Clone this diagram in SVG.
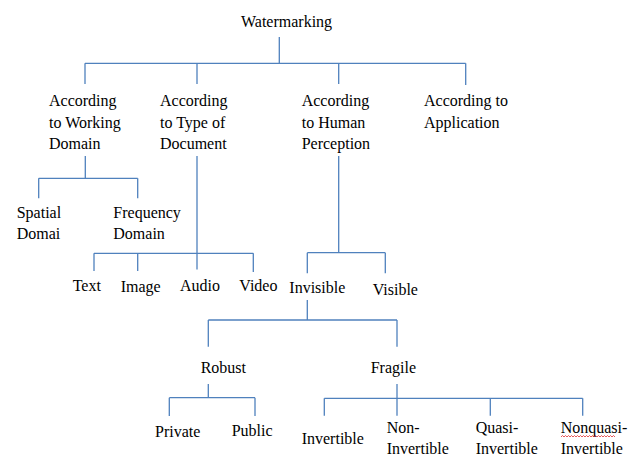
<svg xmlns="http://www.w3.org/2000/svg" width="637" height="458" viewBox="0 0 637 458">
<rect width="637" height="458" fill="#fff"/>
<g id="connectors" stroke="#4f81bd" stroke-width="1.3" fill="none">
<line x1="279.3" y1="37" x2="279.3" y2="63.3"/>
<line x1="85" y1="63.3" x2="465.7" y2="63.3"/>
<line x1="85" y1="63.3" x2="85" y2="84"/>
<line x1="197" y1="63.3" x2="197" y2="84"/>
<line x1="338.7" y1="63.3" x2="338.7" y2="84"/>
<line x1="465.7" y1="63.3" x2="465.7" y2="85"/>
<line x1="85.3" y1="156" x2="85.3" y2="178.3"/>
<line x1="38.7" y1="178.3" x2="137.7" y2="178.3"/>
<line x1="38.7" y1="178.3" x2="38.7" y2="198.3"/>
<line x1="137.7" y1="178.3" x2="137.7" y2="198.3"/>
<line x1="197" y1="156" x2="197" y2="269.5"/>
<line x1="94" y1="253.3" x2="253.3" y2="253.3"/>
<line x1="94" y1="253.3" x2="94" y2="271"/>
<line x1="137.7" y1="253.3" x2="137.7" y2="271"/>
<line x1="253.3" y1="253.3" x2="253.3" y2="272"/>
<line x1="338.7" y1="156" x2="338.7" y2="252.7"/>
<line x1="307.3" y1="252.7" x2="385.3" y2="252.7"/>
<line x1="307.3" y1="252.7" x2="307.3" y2="273.3"/>
<line x1="385.3" y1="252.7" x2="385.3" y2="273.3"/>
<line x1="307.3" y1="300" x2="307.3" y2="320"/>
<line x1="208.3" y1="320" x2="397" y2="320"/>
<line x1="208.3" y1="320" x2="208.3" y2="346.7"/>
<line x1="397" y1="320" x2="397" y2="346.7"/>
<line x1="208.3" y1="384" x2="208.3" y2="397.7"/>
<line x1="169.3" y1="397.7" x2="255" y2="397.7"/>
<line x1="169.3" y1="397.7" x2="169.3" y2="416"/>
<line x1="255" y1="397.7" x2="255" y2="416"/>
<line x1="397" y1="384" x2="397" y2="415.7"/>
<line x1="324.3" y1="398.3" x2="582.7" y2="398.3"/>
<line x1="324.3" y1="398.3" x2="324.3" y2="415.7"/>
<line x1="490.3" y1="398.3" x2="490.3" y2="415.7"/>
<line x1="582.7" y1="398.3" x2="582.7" y2="415.7"/>
</g>
<g id="watermarking"><text font-family="Liberation Serif" font-size="16" x="241" y="27">Watermarking</text></g>
<g id="working-domain"><text font-family="Liberation Serif" font-size="16" x="49" y="106">According</text><text font-family="Liberation Serif" font-size="16" x="49" y="128">to Working</text><text font-family="Liberation Serif" font-size="16" x="49" y="149">Domain</text></g>
<g id="type-document"><text font-family="Liberation Serif" font-size="16" x="160" y="106">According</text><text font-family="Liberation Serif" font-size="16" x="160" y="128">to Type of</text><text font-family="Liberation Serif" font-size="16" x="160" y="149">Document</text></g>
<g id="human-perception"><text font-family="Liberation Serif" font-size="16" x="301.7" y="106">According</text><text font-family="Liberation Serif" font-size="16" x="301.7" y="128">to Human</text><text font-family="Liberation Serif" font-size="16" x="301.7" y="149">Perception</text></g>
<g id="application"><text font-family="Liberation Serif" font-size="16" x="424" y="106">According to</text><text font-family="Liberation Serif" font-size="16" x="424" y="128">Application</text></g>
<g id="spatial"><text font-family="Liberation Serif" font-size="16" x="16.7" y="218.3">Spatial</text><text font-family="Liberation Serif" font-size="16" x="16.7" y="239">Domai</text></g>
<g id="frequency"><text font-family="Liberation Serif" font-size="16" x="113.3" y="218.3">Frequency</text><text font-family="Liberation Serif" font-size="16" x="113.3" y="239">Domain</text></g>
<g id="text-node"><text font-family="Liberation Serif" font-size="16" x="72.7" y="290.7">Text</text></g>
<g id="image"><text font-family="Liberation Serif" font-size="16" x="120.7" y="291.7">Image</text></g>
<g id="audio"><text font-family="Liberation Serif" font-size="16" x="180" y="291.3">Audio</text></g>
<g id="video"><text font-family="Liberation Serif" font-size="16" x="239.3" y="291">Video</text></g>
<g id="invisible"><text font-family="Liberation Serif" font-size="16" x="289.3" y="293.3">Invisible</text></g>
<g id="visible"><text font-family="Liberation Serif" font-size="16" x="372.7" y="295">Visible</text></g>
<g id="robust"><text font-family="Liberation Serif" font-size="16" x="200.7" y="372.7">Robust</text></g>
<g id="fragile"><text font-family="Liberation Serif" font-size="16" x="370.7" y="373">Fragile</text></g>
<g id="private"><text font-family="Liberation Serif" font-size="16" x="155" y="436.7">Private</text></g>
<g id="public"><text font-family="Liberation Serif" font-size="16" x="231.7" y="436">Public</text></g>
<g id="invertible"><text font-family="Liberation Serif" font-size="16" x="301.7" y="444">Invertible</text></g>
<g id="non-invertible"><text font-family="Liberation Serif" font-size="16" x="386.7" y="433.3">Non-</text><text font-family="Liberation Serif" font-size="16" x="386.7" y="454">Invertible</text></g>
<g id="quasi-invertible"><text font-family="Liberation Serif" font-size="16" x="475.7" y="433.3">Quasi-</text><text font-family="Liberation Serif" font-size="16" x="475.7" y="454">Invertible</text></g>
<g id="nonquasi-invertible"><text font-family="Liberation Serif" font-size="16" x="560.7" y="433.3">Nonquasi-</text>
<path d="M561 437 l1.5 -1.5 l1.5 1.5 l1.5 -1.5 l1.5 1.5 l1.5 -1.5 l1.5 1.5 l1.5 -1.5 l1.5 1.5 l1.5 -1.5 l1.5 1.5 l1.5 -1.5 l1.5 1.5 l1.5 -1.5 l1.5 1.5 l1.5 -1.5 l1.5 1.5 l1.5 -1.5 l1.5 1.5 l1.5 -1.5 l1.5 1.5 l1.5 -1.5 l1.5 1.5 l1.5 -1.5 l1.5 1.5 l1.5 -1.5 l1.5 1.5 l1.5 -1.5 l1.5 1.5 l1.5 -1.5 l1.5 1.5 l1.5 -1.5 l1.5 1.5 l1.5 -1.5 l1.5 1.5 l1.5 -1.5 l1.5 1.5" fill="none" stroke="#e03030" stroke-width="0.8"/>
<text font-family="Liberation Serif" font-size="16" x="560.7" y="454">Invertible</text></g>
</svg>
